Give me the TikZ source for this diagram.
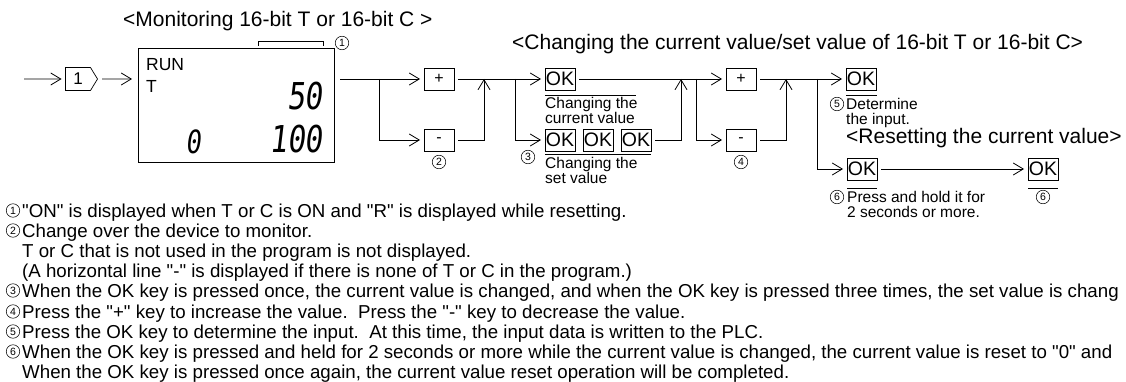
\documentclass[tikz,border=0pt]{standalone}
\usepackage{fontspec}
\setmainfont{Liberation Sans}[Ligatures=TeXOff]
\newfontfamily\segfont{DejaVu Sans Mono}[FakeSlant=0.12,FakeStretch=0.8]
\usetikzlibrary{positioning}
\usetikzlibrary{arrows.meta}
\usetikzlibrary{shapes.symbols}

\begin{document}
\begin{tikzpicture}[x=1pt, y=-1pt,
    key/.style={draw, line width=0.7pt, minimum width=30pt, minimum height=22pt, inner sep=0pt, outer sep=4pt, font=\fontsize{16}{16}\selectfont},
    okkey/.style={key, font=\fontsize{19.5}{19.5}\selectfont},
    lcd/.style={draw, line width=0.8pt, minimum width=196pt, minimum height=114pt, outer sep=6pt},
    wire/.style={line width=0.8pt},
    arrow/.style={wire, -{Straight Barb[length=10pt, width=12pt]}},
    num/.style={circle, draw, line width=0.55pt, minimum size=13.5pt, inner sep=0pt, font=\fontsize{10.5}{10.5}\selectfont},
    note/.style={anchor=north west, align=left, inner sep=0pt, font=\fontsize{15.5}{15}\selectfont},
    heading/.style={anchor=base west, inner sep=0pt, font=\fontsize{21}{21}\selectfont},
    body/.style={anchor=base west, inner sep=0pt, font=\fontsize{18.7}{18.7}\selectfont},
    lcdtext/.style={anchor=base west, inner sep=0pt, font=\fontsize{17.5}{17.5}\selectfont},
    seg/.style={anchor=base east, inner sep=0pt, font=\segfont\fontsize{37}{37}\selectfont}
]
    \useasboundingbox (0,0) rectangle (1126,382);

    % Headings
    \node[heading] (monhead) at (123,27) {<Monitoring 16-bit T or 16-bit C >};
    \node[heading] (chghead) at (512,50) {<Changing the current value/set value of 16-bit T or 16-bit C>};
    \node[heading] (rsthead) at (846,144) {<Resetting the current value>};

    % Start key and display
    \coordinate (start) at (24,79);
    \node[signal, signal to=east, draw, line width=0.7pt, minimum width=32pt, minimum height=23pt,
          signal pointer angle=117, inner sep=0pt, outer sep=4pt, font=\fontsize{17}{17}\selectfont] (one) at (78,79) {1};
    \node[lcd] (lcd) at (236,105) {};
    \draw[arrow] (start) -- (one);
    \draw[arrow] (one) -- (one -| lcd.west);

    % Display contents
    \node[lcdtext] (run) at (146,71) {RUN};
    \node[lcdtext] (dev) at (146,93) {T};
    \node[seg] (cur) at (323,110) {50};
    \node[seg] (setv) at (323,153) {100};
    \node[seg, font=\segfont\fontsize{32}{32}\selectfont] (cnt) at (201,154) {0};

    % Status bracket
    \draw[wire] (258,46) -- (258,41) -- (323,41) -- (323,46);
    \node[num] (n1) at (342,43) {1};

    % Select the device
    \coordinate (b1) at (379,79);
    \node[key] (plusA) at (439,79) {+};
    \node[key] (minusA) at (439,140) {-};
    \node[num] (n2) at (439,162) {2};
    \draw[wire] (lcd.east |- b1) -- (b1);
    \draw[arrow] (b1) -- (plusA);
    \draw[arrow] (b1) |- (minusA);

    \coordinate (j1) at (484,79);
    \coordinate (b2) at (515,79);
    \draw[wire] (plusA) -- (b2);
    \draw[arrow] (minusA) -| (j1);

    % Current value / set value
    \node[okkey] (okA) at (560,79) {OK};
    \node[okkey] (okB) at (560,140) {OK};
    \node[okkey, right=0pt of okB] (okC) {OK};
    \node[okkey, right=0pt of okC] (okD) {OK};
    \draw[arrow] (b2) -- (okA);
    \draw[arrow] (b2) |- (okB);
    \node[num] (n3) at (528,157) {3};

    \draw[wire] (545,95) -- (636,95);
    \node[note] (cvnote) at (545,97) {Changing the\\current value};
    \draw[wire] (545,154) -- (651,154);
    \node[note] (svnote) at (545,157) {Changing the\\set value};

    \coordinate (j2) at (681,79);
    \coordinate (b3) at (696,79);
    \draw[wire] (okA) -- (b3);
    \draw[arrow] (okD) -| (j2);

    % Change the value
    \node[key] (plusB) at (741,79) {+};
    \node[key] (minusB) at (741,140) {-};
    \node[num] (n4) at (741,162) {4};
    \draw[arrow] (b3) -- (plusB);
    \draw[arrow] (b3) |- (minusB);

    \coordinate (j3) at (786,79);
    \coordinate (b4) at (817,79);
    \draw[wire] (plusB) -- (b4);
    \draw[arrow] (minusB) -| (j3);

    % Determine the input
    \node[okkey] (okE) at (861,79) {OK};
    \draw[arrow] (b4) -- (okE);
    \draw[wire] (846,95) -- (877,95);
    \node[num] (n5) at (837,104) {5};
    \node[note] (detnote) at (846,98) {Determine\\the input.};

    % Reset the current value
    \node[okkey] (okF) at (862,169) {OK};
    \node[okkey] (okG) at (1043,169) {OK};
    \draw[arrow] (b4) |- (okF);
    \draw[arrow] (okF) -- (okG);
    \draw[wire] (847,188) -- (877,188);
    \draw[wire] (1028,188) -- (1058,188);
    \node[num] (n6a) at (837,197) {6};
    \node[note] (holdnote) at (847,191) {Press and hold it for\\2 seconds or more.};
    \node[num] (n6b) at (1043,197) {6};

    % Notes
    \node[num] (m1) at (13,210.5) {1};
    \node[body] (l1) at (22,217) {"ON" is displayed when T or C is ON and "R" is displayed while resetting.};
    \node[num] (m2) at (13,230.5) {2};
    \node[body] (l2) at (22,237) {Change over the device to monitor.};
    \node[body] (l3) at (22,257) {T or C that is not used in the program is not displayed.};
    \node[body] (l4) at (22,277) {(A horizontal line "-" is displayed if there is none of T or C in the program.)};
    \node[num] (m3) at (13,290.5) {3};
    \node[body] (l5) at (22,297) {When the OK key is pressed once, the current value is changed, and when the OK key is pressed three times, the set value is chang};
    \node[num] (m4) at (13,311.5) {4};
    \node[body] (l6) at (22,318) {Press the "+" key to increase the value.\ \ Press the "-" key to decrease the value.};
    \node[num] (m5) at (13,331.5) {5};
    \node[body] (l7) at (22,338) {Press the OK key to determine the input.\ \ At this time, the input data is written to the PLC.};
    \node[num] (m6) at (13,351.5) {6};
    \node[body] (l8) at (22,358) {When the OK key is pressed and held for 2 seconds or more while the current value is changed, the current value is reset to "0" and};
    \node[body] (l9) at (22,378) {When the OK key is pressed once again, the current value reset operation will be completed.};
\end{tikzpicture}
\end{document}
